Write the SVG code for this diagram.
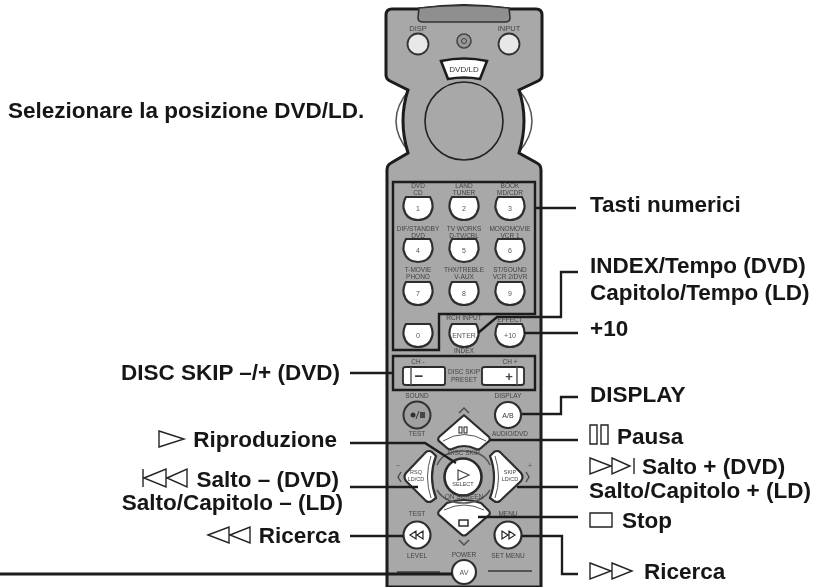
<svg xmlns="http://www.w3.org/2000/svg" width="815" height="587" viewBox="0 0 815 587">
<style>
text{font-family:"Liberation Sans",Arial,sans-serif}
.l{font-size:22.5px;font-weight:bold;fill:#151515}
.e{text-anchor:end}
.s{font-size:6.5px;fill:#444;text-anchor:middle}
.b{font-size:7px;fill:#555;text-anchor:middle}
.w{fill:#fff;stroke:#2e2e2e;stroke-width:2.2}
.o{fill:none;stroke:#1a1a1a;stroke-width:2.4}
.c{fill:none;stroke:#1a1a1a;stroke-width:2.3}
.g{fill:none;stroke:#222;stroke-width:1.2}
.t{fill:none;stroke:#222;stroke-width:1.4}
.m{fill:none;stroke:#4a4a4a;stroke-width:1.4}
</style>
<defs>
<path id="k" d="M-12-11H12Q15-6 14.500 0Q12 12 0 12Q-12 12-14.500 0Q-15-6-12-11Z" class="w"/>
<filter id="soft" x="-2%" y="-2%" width="104%" height="104%"><feGaussianBlur stdDeviation="0.45"/></filter>
<filter id="soft2" x="-2%" y="-2%" width="104%" height="104%"><feGaussianBlur stdDeviation="0.3"/></filter>
</defs>
<rect width="815" height="587" fill="#fff"/>
<g filter="url(#soft)">
<g id="remote">
<path d="M409 90Q383 121 409 152M519 90Q545 121 519 152" fill="#fff" stroke="#555" stroke-width="1.500"/>
<path d="M392 9H419Q464 2 509 9H536Q542 9 542 15V75Q542 79 538 81L519 90Q529 120 519 153L537 163Q541 165 541 170V587H387V170Q387 165 391 163L408 153Q398 120 408 90L390 81Q386 79 386 75V15Q386 9 392 9Z" fill="#a8a8a8" stroke="#1c1c1c" stroke-width="3"/>
<path d="M419 8Q464 3 509 8L510 18Q510 22 505 22H423Q418 22 418 18Z" fill="#8f8f8f" stroke="#333" stroke-width="1.600"/>
</g>
<g id="top-buttons">
<circle cx="418" cy="44" r="10.500" fill="#e8e8e8" stroke="#333" stroke-width="1.800"/>
<circle cx="509" cy="44" r="10.500" fill="#e8e8e8" stroke="#333" stroke-width="1.800"/>
<circle cx="464" cy="41" r="7" fill="#999" stroke="#444" stroke-width="1.600"/>
<circle cx="464" cy="41" r="2.500" fill="none" stroke="#444"/>
<text x="418" y="31" class="s" style="font-size:7.5px">DISP</text>
<text x="509" y="31" class="s" style="font-size:7.5px">INPUT</text>
<path d="M441 61Q464 56 487 61L480 79Q464 76 448 79Z" fill="#fff" stroke="#1c1c1c" stroke-width="2.600"/>
<text x="464" y="71.500" class="b" style="fill:#333;font-size:8px">DVD/LD</text>
<circle cx="464" cy="121" r="39" fill="#a8a8a8" stroke="#222" stroke-width="1.600"/>
</g>
<g id="panels">
<path d="M393 182H535V314H439V350H393Z" class="o"/>
<path d="M393 356H535V390H393Z" class="o"/>
</g>
<g id="numeric-keys">
<use href="#k" x="418" y="208"/><use href="#k" x="464" y="208"/><use href="#k" x="510" y="208"/>
<use href="#k" x="418" y="250"/><use href="#k" x="464" y="250"/><use href="#k" x="510" y="250"/>
<use href="#k" x="418" y="293"/><use href="#k" x="464" y="293"/><use href="#k" x="510" y="293"/>
<use href="#k" x="418" y="335"/><use href="#k" x="464" y="335"/><use href="#k" x="510" y="335"/>
<text x="418" y="211" class="b">1</text><text x="464" y="211" class="b">2</text><text x="510" y="211" class="b">3</text>
<text x="418" y="253" class="b">4</text><text x="464" y="253" class="b">5</text><text x="510" y="253" class="b">6</text>
<text x="418" y="296" class="b">7</text><text x="464" y="296" class="b">8</text><text x="510" y="296" class="b">9</text>
<text x="418" y="338" class="b">0</text><text x="464" y="338" class="b">ENTER</text><text x="510" y="338" class="b">+10</text>
<text x="418" y="188" class="s">DVD</text><text x="418" y="195" class="s">CD</text>
<text x="464" y="188" class="s">LAND</text><text x="464" y="195" class="s">TUNER</text>
<text x="510" y="188" class="s">BOOK</text><text x="510" y="195" class="s">MD/CDR</text>
<text x="418" y="231" class="s">DIF/STANDBY</text><text x="418" y="238" class="s">DVD</text>
<text x="464" y="231" class="s">TV WORKS</text><text x="464" y="238" class="s">D-TV/CBL</text>
<text x="510" y="231" class="s">MONOMOVIE</text><text x="510" y="238" class="s">VCR 1</text>
<text x="418" y="272" class="s">T-MOVIE</text><text x="418" y="279" class="s">PHONO</text>
<text x="464" y="272" class="s">THX/TREBLE</text><text x="464" y="279" class="s">V-AUX</text>
<text x="510" y="272" class="s">ST/SOUND</text><text x="510" y="279" class="s">VCR 2/DVR</text>
<text x="464" y="320" class="s">RCH INPUT</text>
<text x="464" y="353" class="s">INDEX</text>
<text x="510" y="322" class="s">EFFECT</text>
</g>
<g id="disc-skip">
<path d="M406 367H443Q445 367 445 369V383Q445 385 443 385H406Q403 385 403 383V369Q403 367 406 367ZM485 367H521Q524 367 524 369V383Q524 385 521 385H485Q482 385 482 383V369Q482 367 485 367Z" fill="#fff" stroke="#2a2a2a" stroke-width="1.800"/>
<path d="M411 367V385M517 367V385" stroke="#555" stroke-width="1.500" fill="none"/>
<text x="419" y="381" font-size="15" font-weight="bold" fill="#333" text-anchor="middle">−</text>
<text x="509" y="381" font-size="13" font-weight="bold" fill="#444" text-anchor="middle">+</text>
<text x="418" y="364" class="s">CH -</text><text x="510" y="364" class="s">CH +</text>
<text x="464" y="374" class="s">DISC SKIP</text><text x="464" y="382" class="s">PRESET</text>
</g>
<g id="control-keys">
<circle cx="417" cy="415" r="13.500" fill="#a0a0a0" stroke="#333" stroke-width="2"/>
<circle cx="413" cy="415" r="2.500" fill="#333"/><path d="M416 419L419 411" stroke="#333"/><rect x="420" y="412" width="5" height="6" fill="#444"/>
<circle cx="508" cy="415" r="13" class="w"/>
<text x="508" y="418" class="b" style="fill:#333">A/B</text>
<text x="417" y="398" class="s">SOUND</text><text x="508" y="398" class="s">DISPLAY</text>
<text x="417" y="436" class="s">TEST</text><text x="510" y="436" class="s">AUDIO/DVD</text>
<path d="M459 413L464 408L469 413" class="m"/>
<path d="M465 416L489 437Q491 440 488 442L481 448Q479 450 476 449Q464 443 452 449Q449 450 447 448L440 442Q437 440 439 437L463 416Q464 415 465 416Z" class="w"/>
<path d="M443 441Q464 428 486 441" fill="none" stroke="#555" stroke-width="1"/>
<rect x="459" y="427" width="3" height="6" fill="none" stroke="#222"/><rect x="464" y="427" width="3" height="6" fill="none" stroke="#222"/>
<path d="M447 503Q464 497 481 503L489 511Q491 514 488 516L466 535Q464 536 462 535L440 516Q437 514 439 511Z" class="w"/>
<path d="M444 510Q464 500 484 510" fill="none" stroke="#555" stroke-width="1"/>
<rect x="459" y="520" width="9" height="6" fill="#fff" stroke="#222" stroke-width="1.400"/>
<path d="M459 540L464 545L469 540" class="m"/>
<path d="M426 452Q429 450 432 452L436 456Q428 477 436 498L432 501Q429 503 426 501L406 481Q403 477 406 473Z" class="w"/>
<path d="M500 452Q497 450 494 452L490 456Q498 477 490 498L494 501Q497 503 500 501L521 481Q524 477 521 473Z" class="w"/>
<path d="M431 456Q424 477 431 498M495 456Q502 477 495 498" fill="none" stroke="#555" stroke-width="1"/>
<path d="M401 472L398 477L401 482M526 472L529 477L526 482" class="m"/>
<text x="398" y="468" class="b">−</text><text x="530" y="468" class="b">+</text>
<text x="416" y="474" class="s" style="font-size:5.5px">RSQ</text><text x="416" y="481" class="s" style="font-size:5.5px">LD/CD</text>
<text x="510" y="474" class="s" style="font-size:5.5px">SKIP</text><text x="510" y="481" class="s" style="font-size:5.5px">LD/CD</text>
<path d="M437 465Q443 451 463 451Q484 451 490 465M437 490Q445 503 463 503Q482 503 490 490" fill="none" stroke="#555" stroke-width="1.500"/>
<circle cx="463" cy="477" r="18.500" fill="#fff" stroke="#2a2a2a" stroke-width="2.600"/>
<path d="M458 470L469 475L458 480Z" fill="none" stroke="#444" stroke-width="1.200"/>
<text x="463" y="486" class="s" style="font-size:5.5px">SELECT</text>
<text x="464" y="455" class="s">DISC SKIP</text>
<text x="464" y="499" class="s">ON SCREEN</text>
<circle cx="417" cy="535" r="13.500" class="w"/>
<circle cx="508" cy="535" r="13.500" class="w"/>
<path d="M410 535L416 531V539ZM417 535L423 531V539Z" class="g"/>
<path d="M515 535L509 531V539ZM508 535L502 531V539Z" class="g"/>
<text x="417" y="516" class="s">TEST</text><text x="508" y="516" class="s">MENU</text>
<text x="417" y="558" class="s">LEVEL</text><text x="508" y="558" class="s">SET MENU</text>
<text x="464" y="557" class="s">POWER</text>
<circle cx="464" cy="572" r="12" class="w"/>
<text x="464" y="575" class="b">AV</text>
<path d="M397 572H440M488 571H532" stroke="#555" stroke-width="2" fill="none"/>
</g>
</g>
<g id="connectors" filter="url(#soft2)">
<path d="M535 208H576" class="c"/>
<path d="M478 333L497 317H561V272H578" class="c"/>
<path d="M524 333H578" class="c"/>
<path d="M350 373H392" class="c"/>
<path d="M350 443H425L456 463" class="c"/>
<path d="M350 487H418" class="c"/>
<path d="M350 536H403" class="c"/>
<path d="M0 574H452" class="c" style="stroke-width:3"/>
<path d="M522 414H561V397H578" class="c"/>
<path d="M490 440H578" class="c"/>
<path d="M517 487H578" class="c"/>
<path d="M478 517H578" class="c"/>
<path d="M522 536H562V574H578" class="c"/>
</g>
<g id="labels" filter="url(#soft2)">
<text x="8" y="118" class="l">Selezionare la posizione DVD/LD.</text>
<text x="590" y="212" class="l">Tasti numerici</text>
<text x="590" y="273" class="l">INDEX/Tempo (DVD)</text>
<text x="590" y="300" class="l">Capitolo/Tempo (LD)</text>
<text x="590" y="336" class="l">+10</text>
<text x="340" y="380" class="l e">DISC SKIP –/+ (DVD)</text>
<text x="337" y="447" class="l e">Riproduzione</text>
<text x="339" y="487" class="l e">Salto – (DVD)</text>
<text x="343" y="510" class="l e">Salto/Capitolo – (LD)</text>
<text x="340" y="543" class="l e">Ricerca</text>
<text x="590" y="402" class="l">DISPLAY</text>
<text x="617" y="444" class="l">Pausa</text>
<text x="642" y="474" class="l">Salto + (DVD)</text>
<text x="589" y="498" class="l">Salto/Capitolo + (LD)</text>
<text x="622" y="528" class="l">Stop</text>
<text x="644" y="579" class="l">Ricerca</text>
</g>
<g id="symbols" filter="url(#soft2)">
<path d="M159 431L184 439L159 447Z" class="t"/>
<path d="M143 469V487M144 478L166 469V487ZM167 478L187 469V487Z" class="t"/>
<path d="M208 535L229 527V543ZM230 535L250 527V543Z" class="t"/>
<path d="M590 425H597V444H590ZM601 425H608V444H601Z" class="t"/>
<path d="M590 458L611 466L590 474ZM612 458L630 466L612 474ZM634 458V474" class="t"/>
<path d="M590 513H612V527H590Z" class="t"/>
<path d="M590 563L611 571L590 579ZM612 563L632 571L612 579Z" class="t"/>
</g>
</svg>
